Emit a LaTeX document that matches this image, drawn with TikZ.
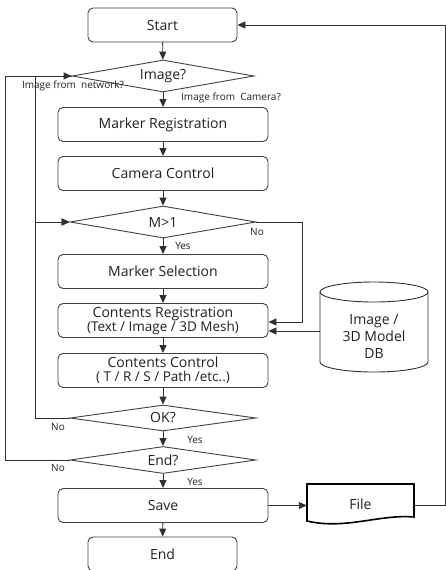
\documentclass[tikz,border=0pt]{standalone}
\usepackage{fontspec}
\setmainfont{Open Sans}
\usetikzlibrary{shapes.geometric, arrows.meta}
\definecolor{linec}{HTML}{303030}
\definecolor{boxc}{HTML}{404040}
\definecolor{txtc}{HTML}{202020}
\begin{document}
\begin{tikzpicture}[x=1pt,y=-1pt,
  line/.style={draw=linec, line width=0.9pt},
  arr/.style={line, -{Triangle[length=8pt,width=7pt]}},
  box/.style={draw=boxc, line width=0.9pt, rounded corners=5pt, minimum width=210pt,
    minimum height=34pt, inner sep=0pt, align=center, text=txtc,
    font=\fontsize{14}{15}\selectfont},
  term/.style={box, minimum width=149pt},
  dec/.style={draw=boxc, line width=0.9pt, diamond, aspect=5.7, inner sep=0pt,
    minimum width=186pt, minimum height=32pt, text=txtc,
    font=\fontsize{14}{15}\selectfont},
  lbl/.style={font=\fontsize{10}{11}\selectfont, inner sep=0pt, text=txtc}]
\useasboundingbox (0,0) rectangle (446,570);

% main column
\node[term] (start) at (162.5,25) {Start};
\node[dec, minimum width=182pt] (img) at (163,76) {Image?};
\node[box] (mreg) at (163,124.5) {Marker Registration};
\node[box] (cam) at (163,173.5) {Camera Control};
\node[dec] (m) at (163,222) {M>1};
\node[box] (msel) at (163,271.5) {Marker Selection};
\node[box] (creg) at (163,320.5) {Contents Registration\\[-1pt]{\fontsize{13.5}{14}\selectfont (Text / Image / 3D Mesh)}};
\node[box] (cctl) at (163,370.5) {Contents Control\\[-1pt]{\fontsize{13.5}{14}\selectfont ( T / R / S / Path /etc..)}};
\node[dec, minimum height=26pt] (ok) at (163,418) {OK?};
\node[dec, minimum height=27pt] (endq) at (163,460) {End?};
\node[box] (save) at (163,505.5) {Save};
\node[term] (end) at (162.5,554) {End};

% database
\draw[line] (374,292) ellipse [x radius=54, y radius=10];
\draw[line] (320,292) -- (320,362)
  .. controls (320,367.52) and (344.2,372) .. (374,372)
  .. controls (403.8,372) and (428,367.52) .. (428,362) -- (428,292);
\node[minimum width=108pt, inner sep=0pt, align=center, text=txtc,
  font=\fontsize{14}{17}\selectfont] (db) at (374,336) {Image /\\3D Model\\DB};

% file
\draw[draw=black, line width=1.6pt] (307,484) -- (414,484) -- (414,517)
  .. controls (380,514) and (345,530) .. (307,521) -- cycle;
\node[minimum width=107pt, inner sep=0pt, text=txtc,
  font=\fontsize{14}{15}\selectfont] (file) at (360.5,505.5) {\raisebox{3pt}{File}};

% vertical flow
\draw[arr] (start) -- (img);
\draw[arr] (img) -- (mreg);
\draw[arr] (mreg) -- (cam);
\draw[arr] (cam) -- (m);
\draw[arr] (m) -- (msel);
\draw[arr] (msel) -- (creg);
\draw[arr] (creg) -- (cctl);
\draw[arr] (cctl) -- (ok);
\draw[arr] (ok) -- (endq);
\draw[arr] (endq) -- (save);
\draw[arr] (save) -- (end);

% loops
\draw[arr] (endq.west) -- ++(-64,0) |- (img.west);
\draw[arr] (img.west) -- ++(-36,0) |- (m.west);
\draw[arr] (ok.west) -- ++(-34,0) |- (m.west);
\draw[arr] (m.east) -- ++(46,0) |- ([yshift=-1.5pt]creg.east);
\draw[arr] ([yshift=5pt]db.west) -- ([yshift=-10.5pt]creg.east);
\draw[arr] (save.east) -- (file.west);
\draw[arr] (file.east) -- ++(31,0) |- (start.east);

% labels
\node[lbl] at (73,86) {Image from~ network?};
\node[lbl] at (231,98) {Image from~ Camera?};
\node[lbl] at (257,232) {No};
\node[lbl] at (183,246) {Yes};
\node[lbl] at (58,427) {No};
\node[lbl] at (195,440) {Yes};
\node[lbl] at (58,468) {No};
\node[lbl] at (195,482) {Yes};
\end{tikzpicture}
\end{document}
